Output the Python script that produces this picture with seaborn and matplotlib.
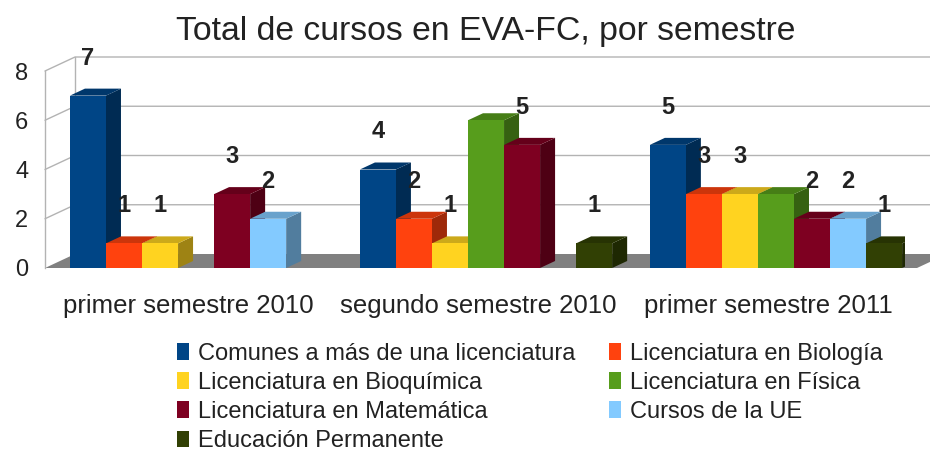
import matplotlib
matplotlib.use("Agg")
import matplotlib.pyplot as plt
import matplotlib.transforms as mtransforms
from matplotlib.patches import Polygon, Patch
import numpy as np
import pandas as pd
import seaborn as sns

# datos
semestres = ["primer semestre 2010", "segundo semestre 2010", "primer semestre 2011"]
series = ["Comunes a más de una licenciatura", "Licenciatura en Biología",
          "Licenciatura en Bioquímica", "Licenciatura en Física",
          "Licenciatura en Matemática", "Cursos de la UE", "Educación Permanente"]
comunes = [7, 4, 5]
biologia = [1, 2, 3]
bioquimica = [1, 1, 3]
fisica = [0, 6, 3]
matematica = [3, 5, 2]
cursos_ue = [2, 0, 2]
educacion = [0, 1, 1]
colores = ["#004586", "#ff420e", "#ffd320", "#579d1c", "#7e0021", "#83caff", "#314004"]
# en el original no aparecen las etiquetas de Física
sin_etiqueta = ["Licenciatura en Física"]

valores = [comunes, biologia, bioquimica, fisica, matematica, cursos_ue, educacion]
rows = []
for s, vals in zip(series, valores):
    for sem, v in zip(semestres, vals):
        rows.append({"semestre": sem, "serie": s, "cursos": v})
df = pd.DataFrame(rows)

sns.set_style("white")
plt.rcParams["font.family"] = ["Liberation Sans", "DejaVu Sans"]

W, H = 930, 455
fig = plt.figure(figsize=(W / 100, H / 100), dpi=100)
ax = fig.add_axes([45 / W, (H - 268) / H, 860 / W, 197 / H])

sns.barplot(data=df, x="semestre", y="cursos", hue="serie", hue_order=series,
            palette=colores, saturation=1, width=0.87, ax=ax, legend=False,
            linewidth=0, zorder=3)
ax.set_xlim(-0.521, 2.445)
ax.set_ylim(0, 8)

def oscuro(c, f):
    r, g, b = matplotlib.colors.to_rgb(c)
    return (r * f, g * f, b * f)

to_px = ax.transData.transform
to_dat = ax.transData.inverted().transform

# pared y piso en perspectiva
wdx, wdy = 30, 14
x_lo, x_hi = ax.get_xlim()
floor = [to_px((x_lo, 0)), to_px((x_hi, 0)) + [12, 0],
         to_px((x_hi, 0)) + [12 + wdx, wdy], to_px((x_lo, 0)) + [wdx, wdy]]
ax.add_patch(Polygon(to_dat(np.array(floor)), closed=True, fc="#808080", ec="none",
                     zorder=1, clip_on=False))
for t in [2, 4, 6, 8]:
    p0 = to_px((x_lo, t))
    p1 = p0 + [wdx, wdy]
    p2 = to_px((x_hi, t)) + [12 + wdx, wdy]
    seg = to_dat(np.array([p0, p1, p2]))
    ax.plot(seg[:, 0], seg[:, 1], color="#b3b3b3", lw=1, zorder=0, clip_on=False)
p0 = to_px((x_lo, 0)) + [wdx, wdy]
p1 = to_px((x_lo, 8)) + [wdx, wdy]
seg = to_dat(np.array([p0, p1]))
ax.plot(seg[:, 0], seg[:, 1], color="#b3b3b3", lw=1, zorder=0, clip_on=False)

# caras laterales y superiores de las barras
bdx, bdy = 15, 7
for cont, s, col in zip(ax.containers, series, colores):
    for rect in cont:
        h = rect.get_height()
        if h <= 0:
            rect.set_visible(False)
            continue
        x0 = rect.get_x()
        x1 = x0 + rect.get_width()
        a = to_px((x0, h)); b = to_px((x1, h)); c = to_px((x1, 0))
        top = [a, b, b + [bdx, bdy], a + [bdx, bdy]]
        side = [c, b, b + [bdx, bdy], c + [bdx, bdy]]
        ax.add_patch(Polygon(to_dat(np.array(side)), closed=True,
                             fc=oscuro(col, 0.62), ec="none", zorder=2.5))
        ax.add_patch(Polygon(to_dat(np.array(top)), closed=True,
                             fc=oscuro(col, 0.8), ec="none", zorder=2.6))
        if s not in sin_etiqueta:
            ax.annotate(str(int(h)), ((x0 + x1) / 2, h), xytext=(0, 27),
                        textcoords="offset points", ha="center", va="center",
                        fontsize=17, fontweight="bold", color="#222222", zorder=5)

ax.set_xlabel("")
ax.set_ylabel("")
ax.set_yticks([0, 2, 4, 6, 8])
ax.tick_params(axis="y", length=0, pad=12, labelsize=17, labelcolor="#222222")
ax.tick_params(axis="x", length=0, pad=19, labelsize=18.5, labelcolor="#222222")
desplaza = mtransforms.ScaledTranslation(-8 / 100, 0, fig.dpi_scale_trans)
for lab in ax.get_xticklabels():
    lab.set_transform(lab.get_transform() + desplaza)
for sp in ["top", "right", "bottom"]:
    ax.spines[sp].set_visible(False)
ax.spines["left"].set_color("#b3b3b3")
ax.spines["left"].set_linewidth(1)

fig.text(486 / W, 1 - 40 / H, "Total de cursos en EVA-FC, por semestre",
         ha="center", va="baseline", fontsize=24.3, color="#222222")

# leyenda en dos columnas, ordenada por filas
orden = [0, 2, 4, 6, 1, 3, 5]
handles = [Patch(facecolor=colores[i], edgecolor="none") for i in orden]
labels = [series[i] for i in orden]
fig.legend(handles, labels, ncol=2, loc="upper left",
           bbox_to_anchor=(177 / W, 1 - 343 / H), frameon=False, fontsize=17,
           handlelength=0.5, handleheight=0.72, handletextpad=0.38,
           labelspacing=0.3, columnspacing=1.45, borderaxespad=0, borderpad=0,
           labelcolor="#222222")

fig.savefig("out.png", dpi=100)
